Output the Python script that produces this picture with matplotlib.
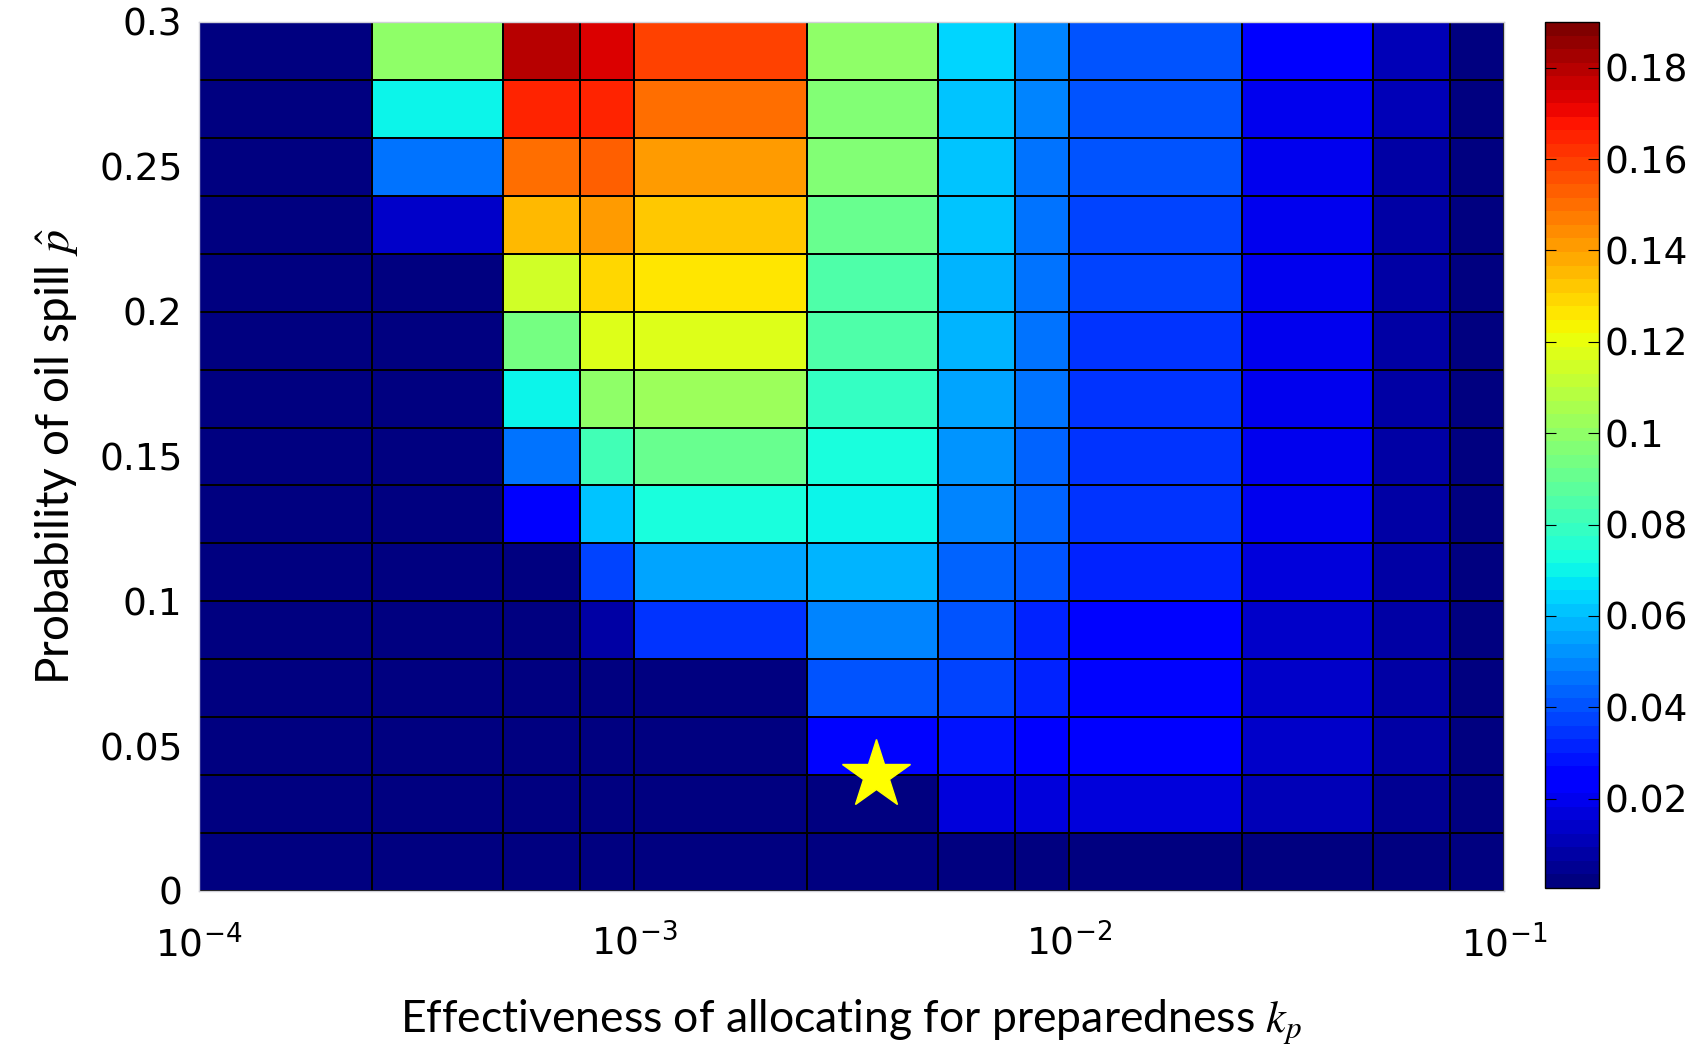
import numpy as np
import matplotlib
matplotlib.use("Agg")
import matplotlib.pyplot as plt
from matplotlib.ticker import FuncFormatter

# grid edges of the pcolor cells
kp_edges = [1e-4, 2.5e-4, 5e-4, 7.5e-4, 1e-3, 2.5e-3, 5e-3, 7.5e-3,
            1e-2, 2.5e-2, 5e-2, 7.5e-2, 1e-1]
p_edges = [0.0, 0.02, 0.04, 0.06, 0.08, 0.10, 0.12, 0.14, 0.16,
           0.18, 0.20, 0.22, 0.24, 0.26, 0.28, 0.30]

# cell values, top row (p = 0.28..0.30) first
rows_top_down = [
    [0.001, 0.099, 0.180, 0.173, 0.160, 0.099, 0.064, 0.050, 0.040, 0.022, 0.010, 0.003],
    [0.001, 0.071, 0.165, 0.166, 0.150, 0.098, 0.062, 0.049, 0.039, 0.021, 0.0095, 0.003],
    [0.001, 0.045, 0.149, 0.152, 0.142, 0.097, 0.061, 0.047, 0.039, 0.021, 0.009, 0.003],
    [0.001, 0.013, 0.134, 0.140, 0.133, 0.090, 0.060, 0.047, 0.038, 0.021, 0.009, 0.003],
    [0.001, 0.002, 0.114, 0.128, 0.125, 0.086, 0.059, 0.046, 0.037, 0.021, 0.009, 0.003],
    [0.001, 0.001, 0.093, 0.116, 0.117, 0.085, 0.059, 0.046, 0.036, 0.021, 0.009, 0.003],
    [0.001, 0.001, 0.071, 0.100, 0.102, 0.078, 0.056, 0.045, 0.036, 0.020, 0.009, 0.003],
    [0.001, 0.001, 0.047, 0.083, 0.090, 0.073, 0.052, 0.044, 0.035, 0.020, 0.009, 0.003],
    [0.001, 0.001, 0.023, 0.061, 0.072, 0.070, 0.049, 0.042, 0.034, 0.019, 0.008, 0.003],
    [0.001, 0.001, 0.003, 0.038, 0.056, 0.058, 0.044, 0.040, 0.033, 0.017, 0.008, 0.003],
    [0.001, 0.001, 0.002, 0.009, 0.036, 0.049, 0.041, 0.033, 0.026, 0.014, 0.008, 0.003],
    [0.001, 0.001, 0.001, 0.003, 0.003, 0.041, 0.038, 0.031, 0.025, 0.014, 0.008, 0.003],
    [0.001, 0.001, 0.001, 0.002, 0.002, 0.025, 0.029, 0.024, 0.022, 0.013, 0.007, 0.003],
    [0.001, 0.001, 0.001, 0.001, 0.002, 0.003, 0.017, 0.017, 0.016, 0.012, 0.006, 0.003],
    [0.001, 0.001, 0.001, 0.001, 0.001, 0.001, 0.002, 0.002, 0.002, 0.002, 0.002, 0.001],
]

# chosen operating point
star_kp = 3.6e-3
star_p = 0.040

cbar_ticks = [0.02, 0.04, 0.06, 0.08, 0.10, 0.12, 0.14, 0.16, 0.18]
y_ticks = [0, 0.05, 0.1, 0.15, 0.2, 0.25, 0.3]
x_ticks = [1e-4, 1e-3, 1e-2, 1e-1]

values = np.array(rows_top_down[::-1])

fig = plt.figure(figsize=(17.03, 10.47), dpi=100)
ax = fig.add_axes([0.1169, 0.149, 0.7663, 0.830])
cax = fig.add_axes([0.907, 0.152, 0.0317, 0.827])

cmap = plt.get_cmap("jet", 64)
mesh = ax.pcolormesh(kp_edges, p_edges, values, cmap=cmap, vmin=0.0005, vmax=0.19,
                     edgecolors="k", linewidth=1.2)
ax.set_xscale("log")
ax.set_xlim(1e-4, 1e-1)
ax.set_ylim(0, 0.3)

ax.plot(star_kp, star_p, marker="*", markersize=52, color="#ffff00",
        markeredgecolor="#ffff00", linestyle="none")

ax.set_xticks(x_ticks)
ax.set_xticklabels([r"$10^{%d}$" % int(np.log10(v)) for v in x_ticks])
ax.set_yticks(y_ticks)
ax.set_yticklabels(["0", "0.05", "0.1", "0.15", "0.2", "0.25", "0.3"])
ax.tick_params(which="both", length=0)
ax.tick_params(axis="y", labelsize=27, pad=12)
ax.tick_params(axis="x", labelsize=27, pad=24)
for s in ax.spines.values():
    s.set_color("#d0d0d8")
    s.set_linewidth(1)

label_font = ["Lato", "DejaVu Sans"]
ax.set_xlabel(r"Effectiveness of allocating for preparedness $k_p$", fontsize=32,
              family=label_font, math_fontfamily="stix", labelpad=24)
ax.set_ylabel(r"Probability of oil spill $\hat{p}$", fontsize=33,
              family=label_font, math_fontfamily="stix", labelpad=14)

cb = fig.colorbar(mesh, cax=cax, ticks=cbar_ticks)
cb.ax.yaxis.set_major_formatter(FuncFormatter(lambda v, _: "%g" % round(v, 2)))
cb.ax.tick_params(direction="in", length=8, left=True, right=True, labelsize=27, pad=4)
cb.outline.set_linewidth(1)

fig.savefig("out.png", dpi=100)
